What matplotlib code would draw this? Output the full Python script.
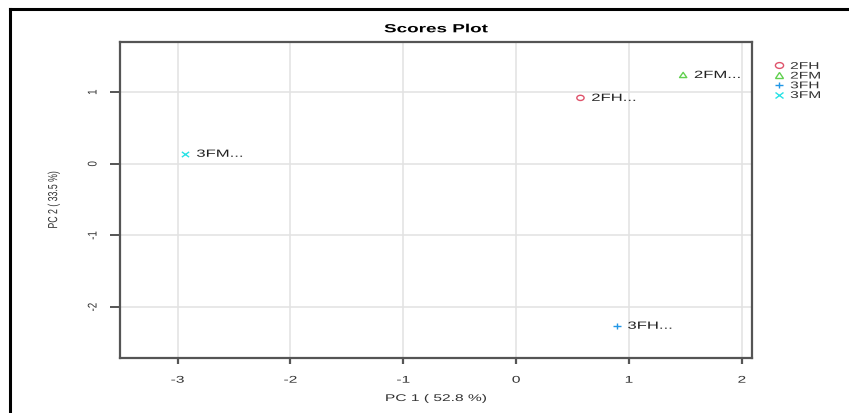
import matplotlib
matplotlib.use("Agg")
import matplotlib.pyplot as plt
from matplotlib.lines import Line2D
from matplotlib.markers import MarkerStyle
from matplotlib.patheffects import AbstractPathEffect
from matplotlib.transforms import Affine2D

plt.rcParams['font.family'] = ['Liberation Sans', 'DejaVu Sans']
plt.rcParams['axes.unicode_minus'] = False

# PCA scores for each sample group
groups = ['2FH', '2FM', '3FH', '3FM']
pc1 = [0.57, 1.48, 0.89, -2.93]
pc2 = [0.92, 1.24, -2.26, 0.14]
point_labels = ['2FH...', '2FM...', '3FH...', '3FM...']
var_pc1 = 52.8
var_pc2 = 33.5

markers = ['o', '^', '+', 'x']
colors = ['#DF536B', '#61D04F', '#2297E6', '#28E2E5']

SX = 1.6  # horizontal widening of glyphs


class Stretch(AbstractPathEffect):
    """Scale a text path in its own frame (along or across the baseline)
    around a fixed fraction of its extent."""

    def __init__(self, sx=1.0, sy=1.0, anchor=0.5):
        super().__init__()
        self.sx = sx
        self.sy = sy
        self.anchor = anchor

    def draw_path(self, renderer, gc, tpath, affine, rgbFace=None):
        ext = tpath.get_extents()
        cx = ext.x0 + self.anchor * (ext.x1 - ext.x0)
        cy = 0.5 * (ext.y0 + ext.y1)
        aff = (Affine2D().translate(-cx, -cy).scale(self.sx, self.sy)
               .translate(cx, cy) + affine)
        renderer.draw_path(gc, tpath, aff, rgbFace)


def wide(anchor=0.5):
    return [Stretch(sx=SX, anchor=anchor)]


def thick(k=1.4):
    # rotated text: widen across the baseline, which is horizontal on screen
    return [Stretch(sy=k)]


fig = plt.figure(figsize=(8.49, 4.14), dpi=100)
ax = fig.add_axes([120 / 849, 1 - 359 / 414, 632 / 849, 316 / 414])

# frame around the panel (top and left edges)
fig.add_artist(Line2D([10 / 849, 1.0], [1 - 10 / 414, 1 - 10 / 414], color='black', lw=2.2))
fig.add_artist(Line2D([10 / 849, 10 / 849], [0.0, 1 - 10 / 414], color='black', lw=2.2))

ax.set_xlim(-3.51, 2.09)
ax.set_ylim(-2.71, 1.70)
ax.set_xticks([-3, -2, -1, 0, 1, 2])
ax.set_yticks([-2, -1, 0, 1])
ax.grid(True, color='#e2e2e2', lw=1.1)
ax.set_axisbelow(True)

for x, y, m, c, lab in zip(pc1, pc2, markers, colors, point_labels):
    ms = MarkerStyle(m, transform=Affine2D().scale(1.4, 1))
    hollow = m in ('o', '^')
    ax.scatter(x, y, marker=ms, s=14, facecolors='none' if hollow else c,
               edgecolors=c if hollow else None, linewidths=1.0, zorder=3)
    ax.annotate(lab, (x, y), xytext=(8, 0), textcoords='offset points',
                va='center', ha='left', fontsize=7.5, color='#222222',
                path_effects=wide(0.0))

for s in ax.spines.values():
    s.set_color('#555555')
    s.set_linewidth(1.6)
ax.tick_params(axis='x', direction='out', length=4, width=1.6, color='#555555',
               labelsize=7, labelcolor='#333333', pad=8)
ax.tick_params(axis='y', direction='out', length=7.2, width=1.4, color='#555555',
               labelsize=7, labelcolor='#333333', pad=9)
for t in ax.get_xticklabels():
    t.set_path_effects(wide())
for t in ax.get_yticklabels():
    t.set_rotation(90)
    t.set_va('center')
    t.set_path_effects(thick(1.3))

ax.set_title('Scores Plot', fontsize=8.5, fontweight='bold', pad=7,
             path_effects=wide())
ax.set_xlabel(f'PC 1 ( {var_pc1} %)', fontsize=7, color='#333333', labelpad=6,
              path_effects=wide())
ax.set_ylabel(f'PC 2 ( {var_pc2} %)', fontsize=6.3, color='#333333',
              path_effects=thick(1.5))
ax.yaxis.set_label_coords(-62 / 632, 0.5)

handles = []
for m, c in zip(markers, colors):
    handles.append(Line2D([], [], marker=MarkerStyle(m, transform=Affine2D().scale(1.4, 1)),
                          color=c, ls='none', markersize=4.2,
                          markerfacecolor='none', markeredgewidth=1.0))
leg = fig.legend(handles, groups, loc='upper left', bbox_to_anchor=(768 / 849, 1 - 57 / 414),
                 frameon=False, fontsize=7, handletextpad=0.6, labelspacing=-0.03,
                 borderpad=0, handlelength=1.2)
for t in leg.get_texts():
    t.set_path_effects(wide(0.0))
    t.set_color('#333333')

fig.savefig('out.png', dpi=100)
